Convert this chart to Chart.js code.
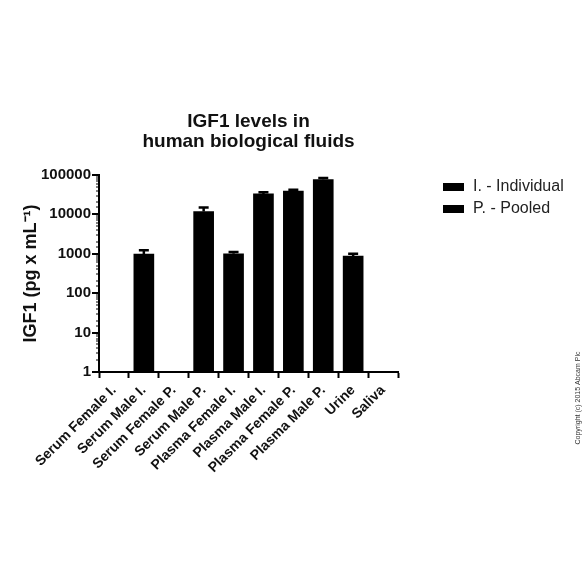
<!DOCTYPE html>
<html>
<head>
<meta charset="utf-8">
<script src="https://cdn.jsdelivr.net/npm/chart.js@4/dist/chart.umd.min.js"></script>
<style>
  html, body { margin: 0; padding: 0; background: #fff; }
  #wrap { width: 584px; height: 584px; }
</style>
</head>
<body>
<div id="wrap"><canvas id="chart" width="584" height="584"></canvas></div>
<script>
// data
const categories = [
  "Serum Female I.", "Serum Male I.", "Serum Female P.", "Serum Male P.",
  "Plasma Female I.", "Plasma Male I.", "Plasma Female P.", "Plasma Male P.",
  "Urine", "Saliva"
];
const igf1 = [null, 980, null, 11800, 1000, 33000, 39000, 76000, 870, null];
const igf1Err = [null, 250, null, 3000, 100, 3200, 3000, 7000, 130, null];
const legendLabels = ["I. - Individual", "P. - Pooled"];
const yTickValues = [1, 10, 100, 1000, 10000, 100000];

const FONT = "Arial, 'Liberation Sans', Helvetica, sans-serif";

const isPow10 = (v) => {
  const l = Math.log10(v);
  return Math.abs(l - Math.round(l)) < 1e-9;
};

// error bars, minor y ticks, legend and copyright
const extras = {
  id: "extras",
  afterDatasetsDraw(chart) {
    const ctx = chart.ctx;
    const x = chart.scales.x, y = chart.scales.y;
    ctx.save();
    ctx.strokeStyle = "#000";
    ctx.lineWidth = 2.5;
    igf1.forEach((v, i) => {
      if (v == null || igf1Err[i] == null) return;
      const px = x.getPixelForValue(i);
      const top = y.getPixelForValue(v + igf1Err[i]);
      const base = y.getPixelForValue(v);
      ctx.beginPath();
      ctx.moveTo(px, base);
      ctx.lineTo(px, top);
      ctx.moveTo(px - 5, top);
      ctx.lineTo(px + 5, top);
      ctx.stroke();
    });
    ctx.restore();
  },
  afterDraw(chart) {
    const ctx = chart.ctx;
    const y = chart.scales.y;
    const left = chart.chartArea.left;
    ctx.save();
    ctx.strokeStyle = "#000";
    y.ticks.forEach((t) => {
      const py = Math.round(y.getPixelForValue(t.value));
      const major = isPow10(t.value);
      ctx.lineWidth = major ? 2 : 1;
      ctx.beginPath();
      ctx.moveTo(left, py);
      ctx.lineTo(left - (major ? 7 : 3), py);
      ctx.stroke();
    });

    // legend
    ctx.font = "16px " + FONT;
    ctx.textBaseline = "middle";
    ctx.textAlign = "left";
    legendLabels.forEach((lab, i) => {
      const cy = 187 + i * 22;
      ctx.fillStyle = "#000";
      ctx.fillRect(443, cy - 4, 21, 8);
      ctx.fillStyle = "#222";
      ctx.fillText(lab, 473, cy);
    });

    // copyright
    ctx.translate(578, 398);
    ctx.rotate(-Math.PI / 2);
    ctx.font = "7px " + FONT;
    ctx.fillStyle = "#333";
    ctx.textAlign = "center";
    ctx.fillText("Copyright (c) 2015 Abcam Plc", 0, 0);
    ctx.restore();
  }
};

new Chart(document.getElementById("chart"), {
  type: "bar",
  data: {
    labels: categories,
    datasets: [{
      data: igf1,
      backgroundColor: "#000",
      borderWidth: 0,
      barThickness: 20
    }]
  },
  options: {
    responsive: false,
    animation: false,
    layout: { padding: { left: 20, right: 186, top: 112, bottom: 92 } },
    plugins: {
      legend: { display: false },
      tooltip: { enabled: false },
      title: {
        display: true,
        fullSize: false,
        text: ["IGF1 levels in", "human biological fluids"],
        color: "#111",
        font: { family: FONT, size: 19, weight: "bold", lineHeight: 1.05 },
        padding: { top: 0, bottom: 23 }
      }
    },
    scales: {
      x: {
        offset: true,
        afterFit: (s) => { s.height = 120; },
        grid: { drawOnChartArea: false, drawTicks: true, tickLength: 6, tickWidth: 2, tickColor: "#000" },
        border: { color: "#000", width: 2 },
        ticks: {
          color: "#111",
          font: { family: FONT, size: 14, weight: "bold" },
          maxRotation: 45,
          minRotation: 45,
          padding: 4,
          autoSkip: false
        }
      },
      y: {
        type: "logarithmic",
        min: 1,
        max: 100000,
        afterFit: (s) => { s.width = 79; },
        grid: { drawOnChartArea: false, drawTicks: false },
        border: { color: "#000", width: 2 },
        ticks: {
          color: "#111",
          font: { family: FONT, size: 15, weight: "bold" },
          padding: 8,
          autoSkip: false,
          callback: (v) => (isPow10(v) && yTickValues.includes(Math.round(v)) ? String(Math.round(v)) : "")
        },
        title: {
          display: true,
          text: "IGF1 (pg x mL\u207B\u00B9)",
          color: "#111",
          font: { family: FONT, size: 18, weight: "bold" },
          padding: { top: 0, bottom: 0 }
        }
      }
    }
  },
  plugins: [extras]
});
</script>
</body>
</html>
